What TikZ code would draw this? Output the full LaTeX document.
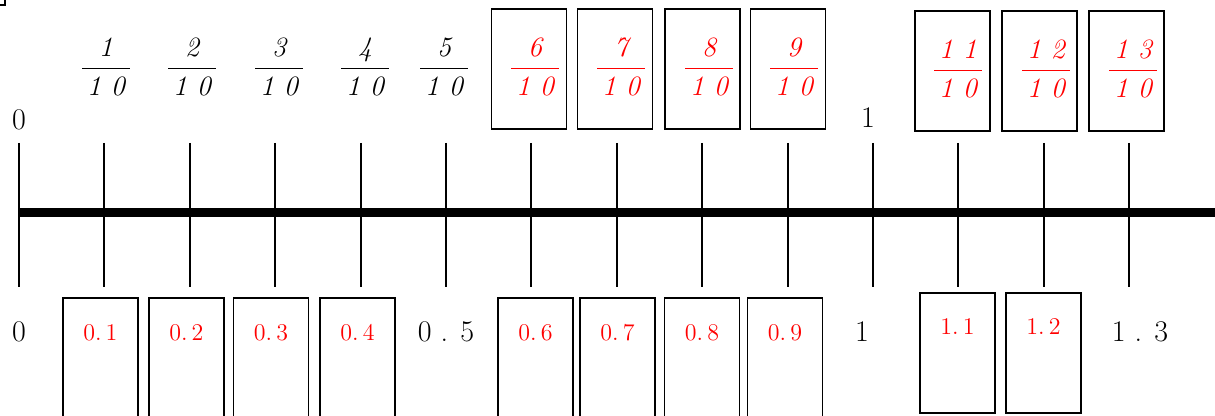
\documentclass[tikz,border=0pt]{standalone}
\usepackage{amsmath}
\usetikzlibrary{positioning}

\newcommand{\tenth}[1]{$\dfrac{\textit{#1}}{\,\textit{1 0}\,}$}

\begin{document}
\begin{tikzpicture}[
  x=0.5pt, y=-0.5pt,
  axis/.style={line width=4.5pt},
  tick/.style={line width=1pt},
  frbox/.style={draw, line width=0.6pt, minimum width=37.5pt, minimum height=60pt, inner sep=0pt},
  blk/.style={font=\fontsize{15}{18}\selectfont, inner sep=0pt},
  frac/.style={font=\fontsize{14}{17}\selectfont, inner sep=0pt},
  dec/.style={text=red, font=\fontsize{12}{14}\selectfont, inner sep=0pt}
]
\useasboundingbox (0,0) rectangle (1215,416);
\draw[line width=1pt] (0,5) -- (5,5) -- (5,0);

% number line
\foreach \i in {0,...,13}
  \coordinate (t\i) at ({19+85.4*\i},213);
\coordinate (axend) at (1215,213);
\draw[axis] (t0) -- (axend);
\foreach \i in {0,...,13}
  \draw[tick] (t\i) ++(0,-70) -- ++(0,144);

% top row
\node[blk] (top0) at (19,120) {0};
\node[blk] (top1) at (868,118) {1};
\foreach \n/\x in {1/106,2/192,3/279,4/365,5/444}
  \node[frac] (f\n) at (\x,67) {\tenth{\n}};
\foreach \n/\bx/\x in {6/529/535,7/615/621,8/702.5/709,9/788/794}{
  \node[frbox] (fb\n) at (\bx,69) {};
  \node[frac, text=red] (f\n) at (\x,67) {\tenth{\n}};
}
\foreach \n/\bx/\x in {1/952.5/958,2/1039.5/1046,3/1126.5/1133}{
  \node[frbox] (fb1\n) at (\bx,71) {};
  \node[frac, text=red] (f1\n) at (\x,69) {\tenth{1 \n}};
}

% bottom row
\node[blk] (bot0) at (19,332) {0};
\node[blk] (bot5) at (446,332) {0 . 5};
\node[blk] (bot10) at (862,332) {1};
\node[blk] (bot13) at (1140,332) {1 . 3};
\foreach \n/\x in {1/100.5,2/186.5,3/271,4/357.5,6/535.5,7/617.5,8/702,9/785}{
  \node[frbox] (db\n) at (\x,358) {};
  \node[dec] (d\n) at (\x,333) {0.\,\n};
}
\foreach \n/\x in {1/957.5,2/1043.5}{
  \node[frbox] (db1\n) at (\x,353) {};
  \node[dec] (d1\n) at (\x,327) {1.\,\n};
}
\end{tikzpicture}
\end{document}
